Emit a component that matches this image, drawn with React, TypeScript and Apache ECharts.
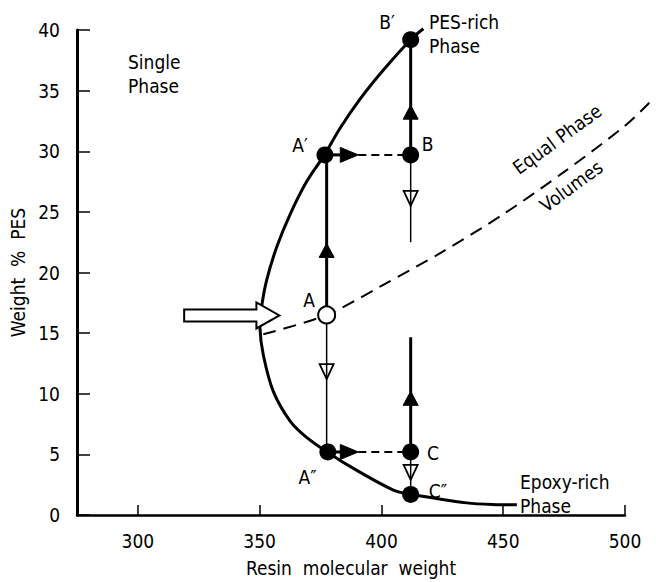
import React, { useEffect, useRef } from "react";
import * as echarts from "echarts";

// ---- data ----
const xTicks = [300, 350, 400, 450, 500];
const yTicks = [0, 5, 10, 15, 20, 25, 30, 35, 40];

// binodal (phase boundary) curve: [resin MW, wt% PES]
const binodal = [
  [455.6, 0.84], [448.7, 0.85], [435, 1.0], [412, 1.71], [404.9, 2.06],
  [389.9, 3.68], [377.8, 5.18], [369.3, 6.4], [362.5, 7.75], [355.6, 10.2],
  [351.5, 13.2], [350.1, 15.5], [350.9, 17.3], [352.9, 19.4], [357, 22.1],
  [362.5, 24.8], [369.3, 27.5], [376.6, 29.7], [383, 31.9], [391.2, 34.3],
  [400.8, 36.7], [412, 39.2], [417.2, 40.1],
];

// equal phase volumes line
const equalPhase = [
  [351.5, 14.9], [377.5, 16.5], [400, 18.9], [425, 21.7], [450, 24.8],
  [475, 28.3], [500, 32.1], [510, 34.0],
];

// tie-line / path points
const pointA = [[377.5, 16.5]];
const solidPoints = [
  [376.8, 29.7], // A'
  [412, 29.7], // B
  [412, 39.2], // B'
  [378, 5.2], // A''
  [412, 5.2], // C
  [412, 1.7], // C''
];

// thick vertical / horizontal segments
const thickSegments = [
  [[377.5, 16.5], [377.5, 29.7]],
  [[412, 29.7], [412, 39.2]],
  [[412, 14.66], [412, 5.2]],
  [[377.5, 29.7], [384, 29.7]],
  [[378, 5.2], [384, 5.2]],
];
// thin vertical segments
const thinSegments = [
  [[377.5, 16.5], [377.5, 5.2]],
  [[412, 29.7], [412, 22.5]],
  [[412, 5.2], [412, 1.7]],
];
// dashed horizontal segments
const dashedSegments = [
  [[390.5, 29.7], [412, 29.7]],
  [[390.5, 5.2], [412, 5.2]],
];

// arrowhead tips
const filledUpArrows = [[377.5, 22.4], [412, 33.8], [412, 10.2]];
const filledRightArrows = [[390.5, 29.7], [390.5, 5.2]];
const openDownArrows = [[377.5, 11.2], [412, 25.5], [412, 2.9]];
// inlet arrow: [tail x, tip x, y]
const inletArrow = [[319, 358.1, 16.46]];

const FONT = '"DejaVu Sans Condensed", "Liberation Sans Narrow", "DejaVu Sans", sans-serif';
const FS = 19;

function curveSeries(points: number[][], width: number, dash: any, smooth: number) {
  return {
    type: "custom",
    data: points,
    clip: false,
    z: 3,
    encode: { x: 0, y: 1 },
    renderItem: (params: any, api: any) => {
      if (params.dataIndex !== 0) return null;
      const pts = points.map((p) => api.coord(p));
      return {
        type: "polyline",
        shape: { points: pts, smooth },
        style: { fill: "none", stroke: "#000", lineWidth: width, lineDash: dash },
      };
    },
  };
}

function segSeries(segs: number[][][], width: number, dash: any, z: number) {
  return segs.map((s) => ({
    type: "custom",
    data: s,
    clip: false,
    z,
    encode: { x: 0, y: 1 },
    renderItem: (params: any, api: any) => {
      if (params.dataIndex !== 0) return null;
      const a = api.coord(s[0]);
      const b = api.coord(s[1]);
      return {
        type: "line",
        shape: { x1: a[0], y1: a[1], x2: b[0], y2: b[1] },
        style: { stroke: "#000", lineWidth: width, lineDash: dash },
      };
    },
  }));
}

function arrowSeries(data: number[][], kind: string) {
  return {
    type: "custom",
    data,
    clip: false,
    z: 6,
    encode: { x: 0, y: 1 },
    renderItem: (params: any, api: any) => {
      if (kind === "inlet") {
        const tail = api.coord([api.value(0), api.value(2)]);
        const tip = api.coord([api.value(1), api.value(2)]);
        const y = tip[1];
        const bx = tip[0] - 23;
        return {
          type: "polygon",
          shape: {
            points: [
              [tail[0], y - 6], [bx, y - 6], [bx, y - 13], [tip[0], y],
              [bx, y + 13], [bx, y + 6], [tail[0], y + 6],
            ],
          },
          style: { fill: "#fff", stroke: "#000", lineWidth: 2 },
        };
      }
      const p = api.coord([api.value(0), api.value(1)]);
      const [x, y] = p;
      if (kind === "up") {
        return {
          type: "polygon",
          shape: { points: [[x, y], [x - 7.5, y + 14], [x + 7.5, y + 14]] },
          style: { fill: "#000", stroke: "#000", lineWidth: 1 },
        };
      }
      if (kind === "right") {
        return {
          type: "polygon",
          shape: { points: [[x, y], [x - 18, y - 7.5], [x - 18, y + 7.5]] },
          style: { fill: "#000", stroke: "#000", lineWidth: 1 },
        };
      }
      return {
        type: "polygon",
        shape: { points: [[x, y], [x - 7, y - 15], [x + 7, y - 15]] },
        style: { fill: "none", stroke: "#000", lineWidth: 1.8 },
      };
    },
  };
}

function txt(text: string, x: number, y: number, align = "left", rotation = 0) {
  return {
    type: "text",
    x,
    y,
    rotation,
    z: 20,
    style: {
      text,
      fontSize: FS,
      fontFamily: FONT,
      fill: "#000",
      align,
      verticalAlign: "middle",
      lineHeight: 24,
    },
  };
}

export default function App() {
  const ref = useRef<HTMLDivElement>(null);
  useEffect(() => {
    document.body.style.margin = "0";
    const chart = echarts.init(ref.current!, null, { renderer: "svg" });
    const option: any = {
      animation: false,
      backgroundColor: "#fff",
      grid: { left: 77, right: 31, top: 30, bottom: 60, containLabel: false },
      xAxis: {
        type: "value",
        min: 275,
        max: 500,
        name: "Resin  molecular  weight",
        nameLocation: "middle",
        nameGap: 43,
        nameTextStyle: { fontSize: FS, fontFamily: FONT, color: "#000" },
        axisLine: { lineStyle: { color: "#000", width: 2.5 } },
        axisTick: {
          inside: true,
          length: 10,
          customValues: xTicks,
          lineStyle: { color: "#000", width: 1.5 },
        },
        axisLabel: {
          customValues: xTicks,
          margin: 16,
          fontSize: FS,
          fontFamily: FONT,
          color: "#000",
        },
        splitLine: { show: false },
      },
      yAxis: {
        type: "value",
        min: 0,
        max: 40,
        interval: 5,
        name: "Weight  %  PES",
        nameLocation: "middle",
        nameRotate: 90,
        nameGap: 50,
        nameTextStyle: { fontSize: FS, fontFamily: FONT, color: "#000" },
        axisLine: { show: true, lineStyle: { color: "#000", width: 3 } },
        axisTick: {
          show: true,
          inside: true,
          length: 13,
          lineStyle: { color: "#000", width: 1.5 },
        },
        axisLabel: {
          customValues: yTicks,
          margin: 17,
          fontSize: FS,
          fontFamily: FONT,
          color: "#000",
        },
        splitLine: { show: false },
      },
      series: [
        curveSeries(binodal, 3, null, 0.35),
        curveSeries(equalPhase, 2, [13, 8], 0.3),
        ...segSeries(thickSegments, 3, null, 4),
        ...segSeries(thinSegments, 1.5, null, 4),
        ...segSeries(dashedSegments, 2, [8, 5], 4),
        arrowSeries(filledUpArrows, "up"),
        arrowSeries(filledRightArrows, "right"),
        arrowSeries(openDownArrows, "down"),
        arrowSeries(inletArrow, "inlet"),
        {
          type: "scatter",
          data: solidPoints,
          symbol: "circle",
          symbolSize: 17,
          z: 10,
          itemStyle: { color: "#000", opacity: 1 },
        },
        {
          type: "scatter",
          data: pointA,
          symbol: "circle",
          symbolSize: 17,
          z: 10,
          itemStyle: { color: "#fff", borderColor: "#000", borderWidth: 2, opacity: 1 },
        },
      ],
      graphic: [
        txt("Single\nPhase", 128, 74),
        txt("B\u2032", 387, 22, "center"),
        txt("PES-rich\nPhase", 429, 34),
        txt("A\u2032", 300, 145, "center"),
        txt("B", 427.5, 144, "center"),
        txt("A", 309, 300, "center"),
        txt("A\u2033", 307.5, 477, "center"),
        txt("C", 433, 452.5, "center"),
        txt("C\u2033", 438, 491, "center"),
        txt("Epoxy-rich\nPhase", 520, 494),
        txt("Equal Phase", 557, 139, "center", 0.63),
        txt("Volumes", 571, 186, "center", 0.63),
      ],
    };
    chart.setOption(option);
    return () => chart.dispose();
  }, []);
  return <div ref={ref} style={{ width: 656, height: 582 }} />;
}
